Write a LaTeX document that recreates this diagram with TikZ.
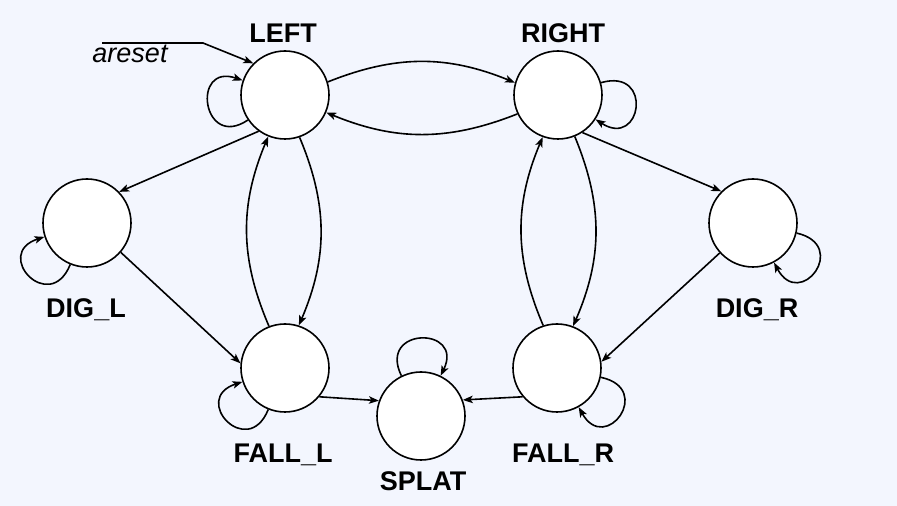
\documentclass[tikz,border=0pt]{standalone}
\usepackage{fontspec}
\setmainfont{Liberation Sans}
\usepackage{xcolor}
\usetikzlibrary{arrows.meta}
\definecolor{bgpale}{RGB}{243,246,254}

\begin{document}
\begin{tikzpicture}[x=1pt, y=1pt,
    fsmstate/.style={circle, draw, fill=white, line width=1.6pt, minimum size=88pt, inner sep=0pt},
    statelabel/.style={font=\fontsize{27}{32}\selectfont\bfseries, anchor=base, inner sep=0pt},
    arr/.style={line width=1.6pt, -{Stealth[length=10pt, width=7.5pt, inset=2.5pt]}}]
    % background and page size
    \fill[bgpale] (0,0) rectangle (897,506);
    \useasboundingbox (0,0) rectangle (897,506);

    % states
    \node[fsmstate] (lft) at (285,411) {};
    \node[fsmstate] (rgt) at (558,411) {};
    \node[fsmstate] (digl) at (87,283) {};
    \node[fsmstate] (digr) at (753,283) {};
    \node[fsmstate] (falll) at (285,138) {};
    \node[fsmstate] (fallr) at (557,138) {};
    \node[fsmstate] (splat) at (421,90) {};

    % state names
    \node[statelabel] (lftname) at (283,463) {LEFT};
    \node[statelabel] (rgtname) at (563,463) {RIGHT};
    \node[statelabel] (diglname) at (86,188) {DIG\_L};
    \node[statelabel] (digrname) at (757,188) {DIG\_R};
    \node[statelabel] (falllname) at (283,43) {FALL\_L};
    \node[statelabel] (fallrname) at (563,43) {FALL\_R};
    \node[statelabel] (splatname) at (423,15) {SPLAT};

    % reset
    \coordinate (rst0) at (102,463);
    \coordinate (rst1) at (203,463);
    \draw[arr] (rst0) -- (rst1) -- (lft.135);
    \node[statelabel, font=\fontsize{27}{32}\selectfont\itshape] (rsttxt) at (130,443) {areset};

    % self loops
    \draw[arr] (lft.214) .. controls +(214:55) and +(161:55) .. (lft.161);
    \draw[arr] (rgt.16) .. controls +(16:55) and +(327:55) .. (rgt.327);
    \draw[arr] (digl.248) .. controls +(248:55) and +(198:55) .. (digl.198);
    \draw[arr] (digr.347) .. controls +(347:55) and +(298:55) .. (digr.298);
    \draw[arr] (falll.248) .. controls +(248:55) and +(198:55) .. (falll.198);
    \draw[arr] (fallr.348) .. controls +(348:55) and +(299:55) .. (fallr.299);
    \draw[arr] (splat.116) .. controls +(116:55) and +(64:55) .. (splat.64);

    % transitions
    \draw[arr] (lft.17) to[bend left=22] (rgt.164);
    \draw[arr] (rgt.205) to[bend left=22] (lft.337);
    \draw[arr] (falll.111) to[bend left=23] (lft.248);
    \draw[arr] (lft.289) to[bend left=23] (falll.72);
    \draw[arr] (fallr.108) to[bend left=23] (rgt.250);
    \draw[arr] (rgt.292) to[bend left=23] (fallr.69);
    \draw[arr] (lft.234) -- (digl.44);
    \draw[arr] (digl.319) -- (falll.174);
    \draw[arr] (rgt.303) -- (digr.135);
    \draw[arr] (digr.222) -- (fallr.8);
    \draw[arr] (falll.320) -- (splat.160);
    \draw[arr] (fallr.220) -- (splat.21);
\end{tikzpicture}
\end{document}
